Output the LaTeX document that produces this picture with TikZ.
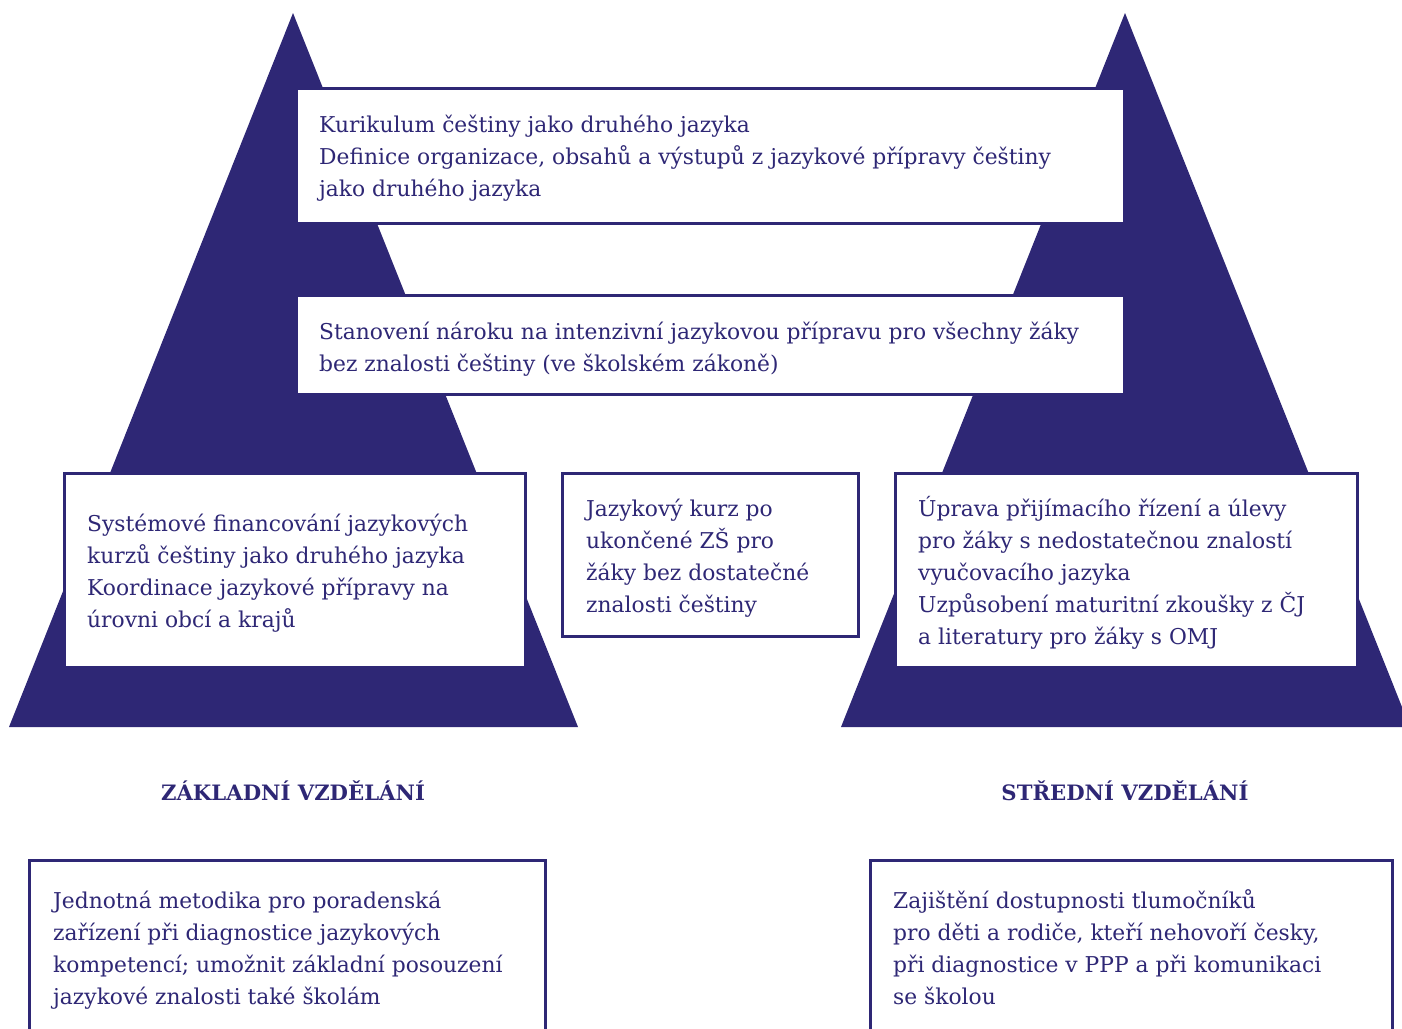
\documentclass[tikz,border=0pt]{standalone}
\usepackage{fontspec}
\setmainfont{DejaVu Serif}
\definecolor{navy}{RGB}{46,39,117}
\tikzset{
  tri/.style={fill=navy, draw=none},
  box/.style={draw=navy, line width=2.5pt, fill=white, inner sep=0pt, anchor=north west},
  txt/.style={text=navy, inner sep=0pt, anchor=base west, font=\fontsize{21.8}{32}\selectfont},
  lbl/.style={text=navy, inner sep=0pt, anchor=base, font=\fontsize{21.2}{26}\selectfont\bfseries},
}
\newcommand\blk[1]{\parbox[t]{900pt}{\raggedright #1}}
\begin{document}
\begin{tikzpicture}[x=1pt,y=-1pt]
\useasboundingbox (0,0) rectangle (1402,1028);
\clip (0,0) rectangle (1402,1028);
% triangles
\path[tri] (293,13) -- (9,727) -- (578,727) -- cycle;
\path[tri] (1125,13) -- (841,727) -- (1410,727) -- cycle;
% boxes
\node[box, minimum width=828pt, minimum height=135pt] (t1) at (295,87) {};
\node[box, minimum width=828pt, minimum height=99pt] (t2) at (295,294) {};
\node[box, minimum width=461pt, minimum height=194pt] (bl) at (63,472) {};
\node[box, minimum width=296pt, minimum height=163pt] (bm) at (561,472) {};
\node[box, minimum width=462pt, minimum height=194pt] (br) at (894,472) {};
\node[box, minimum width=516pt, minimum height=200pt] (ql) at (28,859) {};
\node[box, minimum width=522pt, minimum height=200pt] (qr) at (869,859) {};
% texts
\node[txt] (t1t) at (319,132) {\blk{Kurikulum češtiny jako druhého jazyka\\Definice organizace, obsahů a výstupů z jazykové přípravy češtiny\\jako druhého jazyka}};
\node[txt] (t2t) at (319,339) {\blk{Stanovení nároku na intenzivní jazykovou přípravu pro všechny žáky\\bez znalosti češtiny (ve školském zákoně)}};
\node[txt] (blt) at (87,531) {\blk{Systémové financování jazykových\\kurzů češtiny jako druhého jazyka\\Koordinace jazykové přípravy na\\úrovni obcí a krajů}};
\node[txt] (bmt) at (586,516) {\blk{Jazykový kurz po\\ukončené ZŠ pro\\žáky bez dostatečné\\znalosti češtiny}};
\node[txt] (brt) at (918,516) {\blk{Úprava přijímacího řízení a úlevy\\pro žáky s nedostatečnou znalostí\\vyučovacího jazyka\\Uzpůsobení maturitní zkoušky z ČJ\\a literatury pro žáky s OMJ}};
\node[txt] (qlt) at (53,908) {\blk{Jednotná metodika pro poradenská\\zařízení při diagnostice jazykových\\kompetencí; umožnit základní posouzení\\jazykové znalosti také školám}};
\node[txt] (qrt) at (893,908) {\blk{Zajištění dostupnosti tlumočníků\\pro děti a rodiče, kteří nehovoří česky,\\při diagnostice v PPP a při komunikaci\\se školou}};
% labels
\node[lbl] (lz) at (293,800) {ZÁKLADNÍ VZDĚLÁNÍ};
\node[lbl] (ls) at (1125,800) {STŘEDNÍ VZDĚLÁNÍ};
\end{tikzpicture}
\end{document}
